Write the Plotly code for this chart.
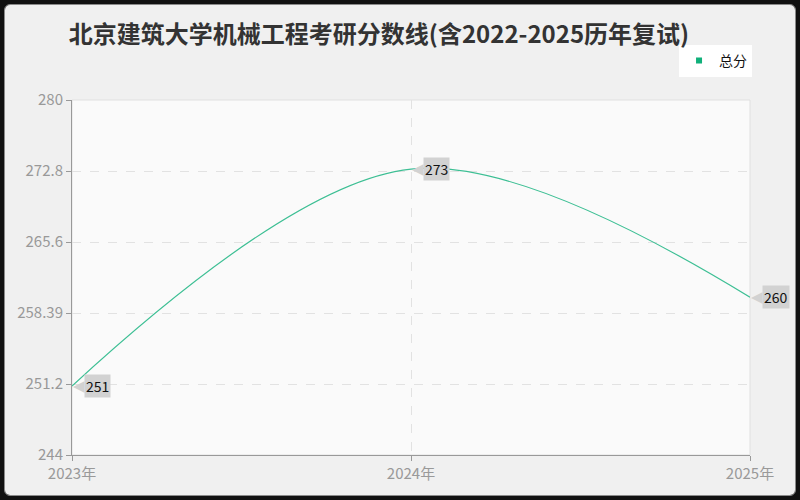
import plotly.graph_objects as go

# data
years = [2023, 2024, 2025]
year_labels = ["2023年", "2024年", "2025年"]
total_scores = [251, 273, 260]
y_ticks = [244, 251.2, 258.39, 265.6, 272.8, 280]
y_tick_labels = ["244", "251.2", "258.39", "265.6", "272.8", "280"]
series_name = "总分"
title_text = "北京建筑大学机械工程考研分数线(含2022-2025历年复试)"

line_color = "#3dbf94"
label_bg = "#d2d2d2"
font_family = "Noto Sans CJK SC"

fig = go.Figure()

fig.add_trace(
    go.Scatter(
        x=years,
        y=total_scores,
        mode="lines",
        line=dict(color=line_color, width=1.2, shape="spline", smoothing=1),
        showlegend=False,
        hoverinfo="skip",
    )
)

# legend-only entry so the legend shows a square swatch
fig.add_trace(
    go.Scatter(
        x=[None],
        y=[None],
        mode="markers",
        marker=dict(symbol="square", size=6, color="#10b07a"),
        name=series_name,
    )
)

# value callouts: grey arrow glyph + grey box with the value
for x, y in zip(years, total_scores):
    fig.add_annotation(
        x=x, y=y, text="◀", showarrow=False,
        xanchor="left", yanchor="middle", xshift=-1,
        font=dict(size=15, color=label_bg, family="DejaVu Sans"),
    )
    fig.add_annotation(
        x=x, y=y, text=str(y), showarrow=False,
        xanchor="left", yanchor="middle", xshift=12,
        bgcolor=label_bg, borderpad=1,
        font=dict(size=14, color="#111111", family=font_family),
    )

# light border round the plot area (top and right edges)
fig.add_shape(
    type="rect", xref="paper", yref="paper",
    x0=0, x1=1, y0=0, y1=1,
    line=dict(color="#e0e0e0", width=1), layer="below",
)

fig.update_layout(
    width=790,
    height=490,
    margin=dict(l=65, r=45, t=95, b=40),
    paper_bgcolor="#f0f0f0",
    plot_bgcolor="#fafafa",
    font=dict(family=font_family, color="#999999", size=15),
    title=dict(
        text=title_text,
        x=0.4734, xanchor="center",
        y=0.9388, yanchor="middle",
        font=dict(size=24, color="#333333", family=font_family, weight="bold"),
    ),
    legend=dict(
        x=1.003, xanchor="right",
        y=1.155, yanchor="top",
        bgcolor="#ffffff",
        font=dict(size=14, color="#111111", family=font_family),
        itemwidth=30,
        borderwidth=0,
    ),
    xaxis=dict(
        range=[2023, 2025],
        tickvals=years,
        ticktext=year_labels,
        showgrid=True,
        gridcolor="#e2e2e2",
        griddash="dash",
        gridwidth=1,
        showline=True,
        linecolor="#999999",
        ticks="outside",
        ticklen=5,
        tickcolor="#999999",
        zeroline=False,
    ),
    yaxis=dict(
        range=[244, 280],
        tickvals=y_ticks,
        ticktext=y_tick_labels,
        showgrid=True,
        gridcolor="#e2e2e2",
        griddash="dash",
        gridwidth=1,
        showline=True,
        linecolor="#999999",
        ticks="outside",
        ticklen=5,
        tickcolor="#999999",
        zeroline=False,
    ),
)

# dark page with a rounded light panel, like the reference screenshot
frame_js = """
document.body.style.margin = '0';
document.body.style.background = '#111111';
var gd = document.querySelector('.plotly-graph-div');
gd.style.margin = '4px';
gd.style.border = '1px solid #8a8a8a';
gd.style.borderRadius = '6px';
gd.style.overflow = 'hidden';
"""

fig.write_html("out.html", post_script=frame_js)
